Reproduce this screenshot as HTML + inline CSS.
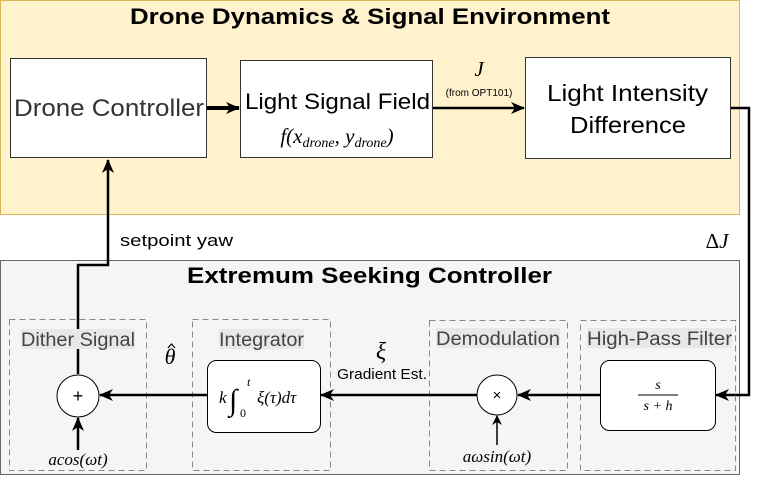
<!DOCTYPE html>
<html><head><meta charset="utf-8"><style>
body{margin:0;width:771px;height:485px;background:#fff;overflow:hidden}
</style></head><body>
<svg width="771" height="485" xmlns="http://www.w3.org/2000/svg" font-family="Liberation Sans, sans-serif">
<defs>
<marker id="ah" markerWidth="14" markerHeight="12" refX="13" refY="6" orient="auto" markerUnits="userSpaceOnUse"><path d="M0,0 L14,6 L0,12 L4,6 Z" fill="#000"/></marker>
<marker id="as" markerWidth="10" markerHeight="10" refX="9" refY="5" orient="auto" markerUnits="userSpaceOnUse"><path d="M0,0 L10,5 L0,10 L3,5 Z" fill="#000"/></marker>
</defs>
<rect x="0.5" y="0.5" width="739" height="214" fill="#fff2cc" stroke="#d6b656"/>
<text x="130" y="24" font-size="22" font-weight="bold" textLength="480" lengthAdjust="spacingAndGlyphs">Drone Dynamics &amp; Signal Environment</text>
<rect x="0.5" y="260.5" width="739" height="214" fill="#f5f5f5" stroke="#666"/>
<text x="187" y="283" font-size="22" font-weight="bold" textLength="365" lengthAdjust="spacingAndGlyphs">Extremum Seeking Controller</text>

<rect x="10.5" y="58.5" width="196" height="99" fill="#fff" stroke="#333"/>
<text x="14" y="116" font-size="24" fill="#333" textLength="190" lengthAdjust="spacingAndGlyphs">Drone Controller</text>
<rect x="240.5" y="60.5" width="192" height="97" fill="#fff" stroke="#333"/>
<text x="245" y="109" font-size="22" textLength="185" lengthAdjust="spacingAndGlyphs">Light Signal Field</text>
<text x="337" y="143" font-size="21" font-family="Liberation Serif, serif" font-style="italic" text-anchor="middle">f(x<tspan font-size="14" dy="4">drone</tspan><tspan dy="-4">, y</tspan><tspan font-size="14" dy="4">drone</tspan><tspan dy="-4">)</tspan></text>
<rect x="525.5" y="57.5" width="205" height="101" fill="#fff" stroke="#333"/>
<text x="547" y="101" font-size="23" textLength="161" lengthAdjust="spacingAndGlyphs">Light Intensity</text>
<text x="570" y="133" font-size="23" textLength="116" lengthAdjust="spacingAndGlyphs">Difference</text>

<line x1="207" y1="108" x2="239" y2="108" stroke="#000" stroke-width="4" marker-end="url(#ah)"/>
<line x1="433" y1="108" x2="524" y2="108" stroke="#000" stroke-width="2.5" marker-end="url(#ah)"/>
<text x="479" y="76" font-size="21" font-family="Liberation Serif, serif" font-style="italic" text-anchor="middle">J</text>
<text x="479" y="96" font-size="10" text-anchor="middle">(from OPT101)</text>

<polyline points="731,108 749,108 749,395 716,395" fill="none" stroke="#000" stroke-width="2.5" marker-end="url(#ah)"/>
<text x="717" y="248" font-size="21" font-family="Liberation Serif, serif" font-style="italic" text-anchor="middle"><tspan font-style="normal">Δ</tspan>J</text>

<polyline points="78,374 78,265 108,265 108,160" fill="none" stroke="#000" stroke-width="2.5" marker-end="url(#ah)"/>
<text x="120" y="246" font-size="17" textLength="113" lengthAdjust="spacingAndGlyphs">setpoint yaw</text>

<rect x="21" y="329" width="114" height="20" fill="#e8e8e8"/>
<rect x="219" y="329" width="85" height="20" fill="#e8e8e8"/>
<rect x="436" y="328" width="124" height="20" fill="#e8e8e8"/>
<rect x="587" y="328" width="145" height="20" fill="#e8e8e8"/>
<rect x="9.5" y="319.5" width="137" height="151" fill="none" stroke="#888" stroke-dasharray="6,4"/>
<rect x="192.5" y="319.5" width="138" height="151" fill="none" stroke="#888" stroke-dasharray="6,4"/>
<rect x="429.5" y="320.5" width="138" height="150" fill="none" stroke="#888" stroke-dasharray="6,4"/>
<rect x="580.5" y="320.5" width="155" height="150" fill="none" stroke="#888" stroke-dasharray="6,4"/>
<text x="21" y="346" font-size="19" fill="#444" textLength="114" lengthAdjust="spacingAndGlyphs">Dither Signal</text>
<text x="219" y="346" font-size="19" fill="#444" textLength="85" lengthAdjust="spacingAndGlyphs">Integrator</text>
<text x="436" y="345" font-size="19" fill="#444" textLength="124" lengthAdjust="spacingAndGlyphs">Demodulation</text>
<text x="587" y="345" font-size="19" fill="#444" textLength="145" lengthAdjust="spacingAndGlyphs">High-Pass Filter</text>

<rect x="207.5" y="360.5" width="113" height="72" rx="9" fill="#fff" stroke="#000"/>
<text x="219" y="403" font-size="17" font-family="Liberation Serif, serif" font-style="italic">k</text>
<text x="229" y="410" font-size="30" font-family="Liberation Serif, serif" font-style="italic">∫</text>
<text x="247" y="386" font-size="12" font-family="Liberation Serif, serif" font-style="italic">t</text>
<text x="240" y="417" font-size="12" font-family="Liberation Serif, serif">0</text>
<text x="257" y="403" font-size="17" font-family="Liberation Serif, serif" font-style="italic">ξ(τ)dτ</text>
<rect x="600.5" y="360.5" width="115" height="70" rx="9" fill="#fff" stroke="#000"/>
<text x="658" y="389" font-size="14" font-family="Liberation Serif, serif" font-style="italic" text-anchor="middle">s</text>
<line x1="638" y1="395" x2="678" y2="395" stroke="#000"/>
<text x="658" y="410" font-size="14" font-family="Liberation Serif, serif" font-style="italic" text-anchor="middle">s + h</text>

<line x1="600" y1="395" x2="518" y2="395" stroke="#000" stroke-width="2.5" marker-end="url(#ah)"/>
<circle cx="497" cy="395" r="20" fill="#fff" stroke="#000"/>
<text x="497" y="400" font-size="15" text-anchor="middle">×</text>
<line x1="497" y1="445" x2="497" y2="416" stroke="#000" stroke-width="1.5" marker-end="url(#as)"/>
<text x="497" y="462" font-size="17" font-family="Liberation Serif, serif" font-style="italic" text-anchor="middle">aωsin(ωt)</text>

<line x1="477" y1="395" x2="321" y2="395" stroke="#000" stroke-width="2.5" marker-end="url(#ah)"/>
<text x="381" y="359" font-size="24" font-family="Liberation Serif, serif" font-style="italic" text-anchor="middle">ξ</text>
<text x="337" y="379" font-size="15" textLength="90" lengthAdjust="spacingAndGlyphs">Gradient Est.</text>

<line x1="207" y1="395" x2="100" y2="395" stroke="#000" stroke-width="2.5" marker-end="url(#ah)"/>
<text x="170" y="364" font-size="22" font-family="Liberation Serif, serif" font-style="italic" text-anchor="middle">θ</text>
<polyline points="168,348 171.5,344 175,348" fill="none" stroke="#000" stroke-width="1.2"/>
<circle cx="78" cy="396" r="21" fill="#fff" stroke="#000"/>
<text x="78" y="402" font-size="18" text-anchor="middle">+</text>
<line x1="78" y1="450" x2="78" y2="418" stroke="#000" stroke-width="2.5" marker-end="url(#ah)"/>
<text x="78" y="465" font-size="17" font-family="Liberation Serif, serif" font-style="italic" text-anchor="middle">acos(ωt)</text>
</svg>
</body></html>
